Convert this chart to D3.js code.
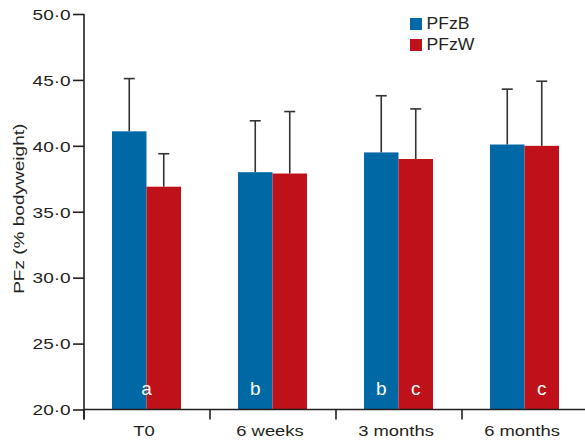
<!DOCTYPE html>
<html>
<head>
<meta charset="utf-8">
<script src="https://cdn.jsdelivr.net/npm/d3@7/dist/d3.min.js"></script>
<style>
  html, body { margin: 0; padding: 0; background: #fff; }
  svg { display: block; font-family: "Liberation Sans", Arial, Helvetica, sans-serif; }
</style>
</head>
<body>
<svg id="chart" width="585" height="443"></svg>
<script>
// Time points
const categories = ["T0", "6 weeks", "3 months", "6 months"];
// Series
const seriesNames = ["PFzB", "PFzW"];
const pfzB = [41.1, 38.0, 39.5, 40.1];
const pfzW = [36.9, 37.9, 39.0, 40.0];
// Upper error bar ends
const pfzBErr = [45.1, 41.9, 43.8, 44.3];
const pfzWErr = [39.4, 42.6, 42.8, 44.9];
// Significance letters: time point, series they sit on ("" = whole group), letter
const letterCats = ["T0", "6 weeks", "3 months", "3 months", "6 months"];
const letterSeries = ["", "PFzB", "PFzB", "PFzW", "PFzW"];
const letterText = ["a", "b", "b", "c", "c"];
const yTicks = [20, 25, 30, 35, 40, 45, 50];

const colors = { PFzB: "#0069a5", PFzW: "#be1119" };
const ink = "#231f20";
const stretch = 1.27; // wide lettering used for axis text

const svg = d3.select("#chart");
const margin = { left: 84, top: 14, bottom: 33.5 };
const W = 585, H = 443;

const x = d3.scaleBand().domain(categories).range([margin.left, 588]);
const y = d3.scaleLinear().domain([20, 50]).range([H - margin.bottom, margin.top]);

const fmt = v => d3.format(".1f")(v).replace(".", "\u00b7");

const barW = 34.5;
const groupMid = c => x(c) + x.bandwidth() / 2 - 0.5;
const offset = { PFzB: -1, PFzW: 0 };

const data = categories.map((c, i) => [
  { cat: c, key: "PFzB", v: pfzB[i], err: pfzBErr[i] },
  { cat: c, key: "PFzW", v: pfzW[i], err: pfzWErr[i] }
]).flat();

const left = d => groupMid(d.cat) + offset[d.key] * barW;

// Bars
svg.append("g").selectAll("rect").data(data).join("rect")
  .attr("x", d => left(d))
  .attr("y", d => y(d.v))
  .attr("width", barW)
  .attr("height", d => y(20) - y(d.v))
  .attr("fill", d => colors[d.key]);

// Error bars (upper only)
const eb = svg.append("g").attr("stroke", "#333").attr("stroke-width", 1.6);
eb.selectAll("line.v").data(data).join("line").attr("class", "v")
  .attr("x1", d => left(d) + barW / 2).attr("x2", d => left(d) + barW / 2)
  .attr("y1", d => y(d.v)).attr("y2", d => y(d.err));
eb.selectAll("line.h").data(data).join("line").attr("class", "h")
  .attr("x1", d => left(d) + barW / 2 - 5.5).attr("x2", d => left(d) + barW / 2 + 5.5)
  .attr("y1", d => y(d.err)).attr("y2", d => y(d.err));

// Letters inside bars
const letters = letterText.map((t, i) => ({ t, cat: letterCats[i], s: letterSeries[i] }));
svg.append("g").selectAll("text").data(letters).join("text")
  .attr("x", d => d.s ? groupMid(d.cat) + offset[d.s] * barW + barW / 2 : groupMid(d.cat))
  .attr("y", y(20) - 14.5)
  .attr("text-anchor", "middle")
  .attr("fill", "#fff")
  .attr("font-size", 19)
  .text(d => d.t);

// Y axis
const yAxis = svg.append("g").attr("transform", `translate(${margin.left},0)`)
  .call(d3.axisLeft(y).tickValues(yTicks).tickFormat(fmt).tickSize(11).tickPadding(0));
yAxis.select(".domain").attr("d", `M0,${y(50)}V${y(20) + 10}`);
yAxis.selectAll("line, path").attr("stroke", ink).attr("stroke-width", 1.6);
yAxis.selectAll("text")
  .attr("x", null).attr("dy", null)
  .attr("transform", `translate(-13.3,5.3) scale(${stretch},1)`)
  .attr("font-size", 15).attr("fill", ink)
  .attr("font-family", "Liberation Sans, Arial, sans-serif");

// X axis with boundary ticks between categories
const xAxis = svg.append("g");
xAxis.append("line")
  .attr("x1", margin.left).attr("x2", W)
  .attr("y1", y(20)).attr("y2", y(20))
  .attr("stroke", ink).attr("stroke-width", 1.6);
xAxis.selectAll("line.tick").data(categories).join("line").attr("class", "tick")
  .attr("x1", d => x(d)).attr("x2", d => x(d))
  .attr("y1", y(20)).attr("y2", y(20) + 10)
  .attr("stroke", ink).attr("stroke-width", 1.6);
xAxis.selectAll("text").data(categories).join("text")
  .attr("transform", d => `translate(${x(d) + x.bandwidth() / 2 - 3},435.5) scale(${stretch},1)`)
  .attr("text-anchor", "middle")
  .attr("font-size", 14.5)
  .attr("fill", ink)
  .text(d => d);

// Y axis title
svg.append("text")
  .attr("transform", `translate(24,${(y(50) + y(20)) / 2 - 3}) rotate(-90) scale(${stretch},1)`)
  .attr("text-anchor", "middle")
  .attr("font-size", 15)
  .attr("fill", ink)
  .text("PFz (% bodyweight)");

// Legend
const lg = svg.append("g").attr("transform", "translate(410,18)");
seriesNames.forEach((s, i) => {
  lg.append("rect").attr("x", 0).attr("y", i * 21).attr("width", 12).attr("height", 12).attr("fill", colors[s]);
  lg.append("text")
    .attr("transform", `translate(16.5,${i * 21 + 10.7}) scale(1.1,1)`)
    .attr("font-size", 16).attr("fill", ink).text(s);
});
</script>
</body>
</html>
